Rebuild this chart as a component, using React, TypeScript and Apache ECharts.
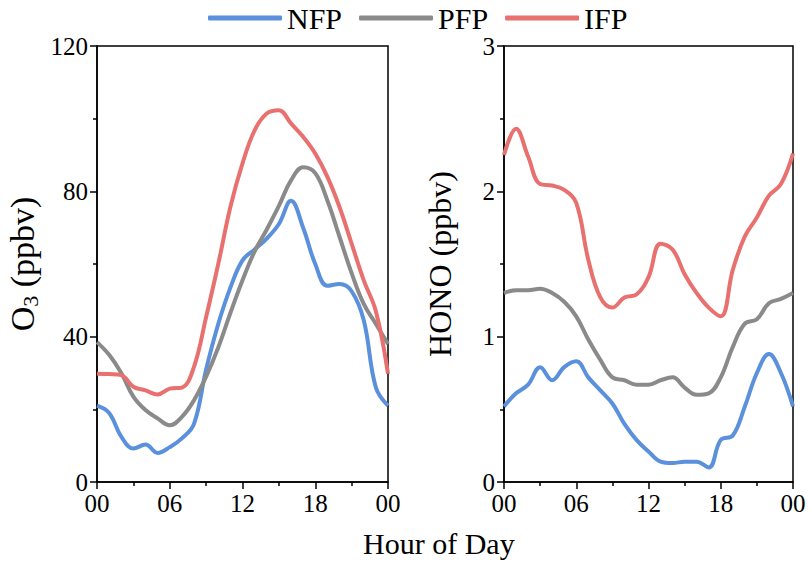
import React, { useEffect, useRef } from "react";
import * as echarts from "echarts";

const hours = [0,1,2,3,4,5,6,7,8,9,10,11,12,13,14,15,16,17,18,19,20,21,22,23,24];
const seriesNames = ["NFP", "PFP", "IFP"];

const o3NFP = [21,19,12.5,9.2,10.3,8,9.6,12,16,31,43.5,53.5,61,64,67,71,77.4,70,60,54,54.5,52.5,44.5,26,21];
const o3PFP = [38.5,35,30,23.5,19.8,17.5,15.6,17.9,22.5,29,37,46.5,55.5,63.5,69.5,76,83,86.6,85,77.5,67.5,57.5,49,43.5,38];
const o3IFP = [29.8,29.7,29.4,26.2,25.2,24.1,25.7,26,31.7,45.4,60,75.7,87.7,96.8,101.4,102.3,98.7,95,90.4,84,75.7,65.6,55.5,47,29.8];

const honoNFP = [0.52,0.61,0.67,0.79,0.70,0.79,0.83,0.72,0.63,0.54,0.40,0.29,0.21,0.14,0.13,0.14,0.14,0.10,0.29,0.32,0.52,0.75,0.88,0.75,0.52];
const honoPFP = [1.30,1.32,1.32,1.33,1.30,1.24,1.14,0.98,0.84,0.72,0.70,0.67,0.67,0.70,0.72,0.65,0.60,0.61,0.72,0.93,1.09,1.12,1.23,1.26,1.30];
const honoIFP = [2.25,2.43,2.24,2.05,2.04,2.01,1.92,1.53,1.27,1.20,1.27,1.29,1.41,1.64,1.60,1.43,1.30,1.20,1.14,1.46,1.69,1.82,1.97,2.05,2.26];

const colors = ["#5b90dc", "#8a8a8a", "#e8706f"];
const FONT = "Liberation Serif";

const pair = (ys: number[]) => hours.map((h, i) => [h, ys[i]]);

export default function App() {
  const ref = useRef<HTMLDivElement>(null);
  useEffect(() => {
    if (!ref.current) return;
    const chart = echarts.init(ref.current, undefined, { renderer: "svg" });
    const xAxisBase = (gridIndex: number) => ({
      type: "value" as const,
      gridIndex,
      min: 0,
      max: 24,
      interval: 6,
      axisLine: { show: true, lineStyle: { color: "#000", width: 1.5 } },
      axisTick: { show: true, inside: false, length: 7, lineStyle: { color: "#000", width: 1.5 } },
      minorTick: { show: true, splitNumber: 2, length: 4, lineStyle: { color: "#000", width: 1.5 } },
      splitLine: { show: false },
      axisLabel: {
        margin: 9,
        fontFamily: FONT,
        fontSize: 25,
        color: "#000",
        formatter: (v: number) => String(v % 24).padStart(2, "0"),
      },
    });
    const yAxisBase = (gridIndex: number, max: number, interval: number) => ({
      type: "value" as const,
      gridIndex,
      min: 0,
      max,
      interval,
      axisLine: { show: true, lineStyle: { color: "#000", width: 1.5 } },
      axisTick: { show: true, inside: false, length: 7, lineStyle: { color: "#000", width: 1.5 } },
      minorTick: { show: true, splitNumber: 2, length: 4, lineStyle: { color: "#000", width: 1.5 } },
      splitLine: { show: false },
      axisLabel: { margin: 9, fontFamily: FONT, fontSize: 25, color: "#000", lineHeight: 24 },
      nameLocation: "middle" as const,
    });
    const lineSeries = (name: string, ys: number[], idx: number, c: string) => ({
      name,
      type: "line" as const,
      xAxisIndex: idx,
      yAxisIndex: idx,
      data: pair(ys),
      smooth: 0.4,
      showSymbol: false,
      symbol: "none",
      lineStyle: { color: c, width: 4 },
      itemStyle: { color: c },
    });
    chart.setOption({
      animation: false,
      backgroundColor: "#fff",
      textStyle: { fontFamily: FONT },
      legend: {
        data: seriesNames.map((n) => ({ name: n, icon: "roundRect" })),
        left: 208,
        top: 3,
        padding: 0,
        itemWidth: 74,
        itemHeight: 5,
        itemGap: 17,
        textStyle: { fontFamily: FONT, fontSize: 30, color: "#000", lineHeight: 30 },
      },
      grid: [
        { left: 97, top: 46, width: 291, height: 436, show: true, borderColor: "#000", borderWidth: 1.5, backgroundColor: "transparent" },
        { left: 504, top: 46, width: 289, height: 436, show: true, borderColor: "#000", borderWidth: 1.5, backgroundColor: "transparent" },
      ],
      xAxis: [xAxisBase(0), xAxisBase(1)],
      yAxis: [
        {
          ...yAxisBase(0, 120, 40),
          name: "{a|O}{b|3}{a| (ppbv)}",
          nameGap: 56,
          nameTextStyle: {
            rich: {
              a: { fontFamily: FONT, fontSize: 34, color: "#000" },
              b: { fontFamily: FONT, fontSize: 22, color: "#000", padding: [15, 0, 0, 0] },
            },
          },
        },
        {
          ...yAxisBase(1, 3, 1),
          name: "HONO (ppbv)",
          nameGap: 48,
          nameTextStyle: { fontFamily: FONT, fontSize: 32, color: "#000" },
        },
      ],
      series: [
        lineSeries("NFP", o3NFP, 0, colors[0]),
        lineSeries("PFP", o3PFP, 0, colors[1]),
        lineSeries("IFP", o3IFP, 0, colors[2]),
        lineSeries("NFP", honoNFP, 1, colors[0]),
        lineSeries("PFP", honoPFP, 1, colors[1]),
        lineSeries("IFP", honoIFP, 1, colors[2]),
      ],
      graphic: [
        {
          type: "text",
          left: 363,
          top: 528,
          style: { text: "Hour of Day", fontFamily: FONT, fontSize: 30, fill: "#000" },
        },
      ],
    });
    return () => chart.dispose();
  }, []);
  return <div ref={ref} style={{ width: 810, height: 568, position: "absolute", left: 0, top: 0 }} />;
}
